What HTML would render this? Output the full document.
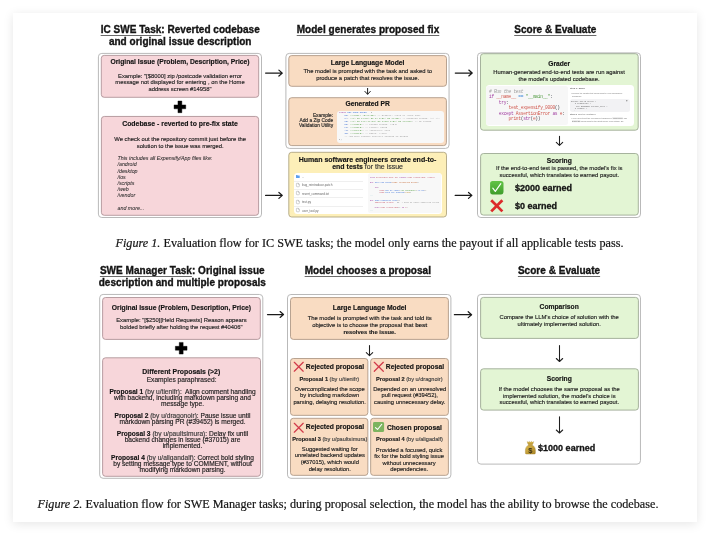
<!DOCTYPE html><html><head><meta charset="utf-8"><style>
*{margin:0;padding:0;box-sizing:border-box}
html,body{width:710px;height:535px;background:#fff;overflow:hidden}
body{position:relative;will-change:transform;font-family:"Liberation Sans",sans-serif;color:#111}
.card{position:absolute;left:13px;top:13px;width:684px;height:509px;background:#fff;box-shadow:0 2px 10px rgba(0,0,0,0.1)}
.tt{position:absolute;white-space:nowrap}
.tx{position:absolute;white-space:nowrap;-webkit-text-stroke:0.15px currentColor}
.ttl{position:absolute;font-weight:bold;text-align:center;white-space:nowrap;color:#141414}
.u{text-decoration:underline;text-decoration-color:#6a6a6a;text-decoration-thickness:0.85px;text-underline-offset:1.6px}
.ob{position:absolute;border:1px solid #bdbdbd;border-radius:4px;background:#fff}
.bx{position:absolute;border:0.8px solid #9a8a8a;border-radius:3.8px}
.pk{background:#f7d6da;border-color:#a98f91}
.or{background:#f9dcc2;border-color:#ab9583}
.gr{background:#e3f5d4;border-color:#97a28e}
.ye{background:#fdefb8;border-color:#ada07a}
.wb{position:absolute;background:#fff;border-radius:3px}
.cb{position:absolute;background:#f6f6f6;border-radius:2.5px}
.code{position:absolute;font-family:"Liberation Mono",monospace;white-space:pre;color:#383a42}
.cap{position:absolute;font-family:"Liberation Serif",serif;font-size:12.2px;color:#141414;-webkit-text-stroke:0.2px #141414;white-space:nowrap;line-height:14px}
b{font-weight:bold}
.g{color:#3a3a3a}
svg{position:absolute;overflow:visible}
</style></head><body>
<div class="card"></div>
<div style="position:absolute;left:0;top:0;width:710px;height:535px;filter:blur(0.3px)">
<div class="ttl" style="left:70.19999999999999px;top:24.04px;width:220px;font-size:10.0px;line-height:11.6px;letter-spacing:0.03px;-webkit-text-stroke:0.35px #141414"><span class="u">IC SWE Task</span>: Reverted codebase<br>and original issue description</div>
<div class="ttl" style="left:258.0px;top:24.04px;width:220px;font-size:10.0px;line-height:11.6px;letter-spacing:0.03px;-webkit-text-stroke:0.35px #141414"><span class="u">Model generates proposed fix</span></div>
<div class="ttl" style="left:445.29999999999995px;top:24.04px;width:220px;font-size:10.0px;line-height:11.6px;letter-spacing:0.03px;-webkit-text-stroke:0.35px #141414"><span class="u">Score &amp; Evaluate</span></div>
<svg style="left:0;top:0" width="710" height="535"><rect x="98.4" y="53.4" width="163.10" height="164.10" rx="3.4" fill="#ffffff" stroke="#b9b9b9" stroke-width="1.0"/></svg>
<svg style="left:0;top:0" width="710" height="535"><rect x="101.3" y="55.4" width="157.40" height="41.90" rx="2.9" fill="#f7d6da" stroke="#ab8f93" stroke-width="0.85"/></svg>
<div class="tx" style="left:95.00px;top:58.20px;width:170px;font-size:6.75px;line-height:7px;font-weight:bold;color:#141414;text-align:center;">Original Issue (Problem, Description, Price)</div>
<div class="tx" style="left:95.00px;top:72.52px;width:170px;font-size:5.85px;line-height:6.55px;font-weight:normal;color:#262626;text-align:center;">Example: "[$8000] zip /postcode validation error<br>message not displayed for entering , on the Home<br>address screen #14958"</div>
<svg style="left:0;top:0" width="710" height="535"><path d="M177.95000000000002 101.0h3.9v3.9h3.9v3.9h-3.9v3.9h-3.9v-3.9h-3.9v-3.9h3.9z" fill="#000" stroke="#000" stroke-width="0.4" stroke-linejoin="round"/></svg>
<svg style="left:0;top:0" width="710" height="535"><rect x="101.4" y="116.45" width="157.20" height="98.85" rx="2.9" fill="#f7d6da" stroke="#ab8f93" stroke-width="0.85"/></svg>
<div class="tx" style="left:95.00px;top:119.90px;width:170px;font-size:6.9px;line-height:7px;font-weight:bold;color:#141414;text-align:center;">Codebase - reverted to pre-fix state</div>
<div class="tx" style="left:95.20px;top:136.27px;width:170px;font-size:5.87px;line-height:6.85px;font-weight:normal;color:#1e1e1e;text-align:center;">We check out the repository commit just before the<br>solution to the issue was merged.</div>
<div class="tx" style="left:117.50px;top:155.10px;width:170px;font-size:5.3px;line-height:6.2px;font-weight:normal;color:#2a2a2a;text-align:left;font-style:italic;-webkit-text-stroke:0.05px #2a2a2a;">This includes all Expensify/App files like:<br>/android<br>/desktop<br>/ios<br>/scripts<br>/web<br>/vendor<br><br>and more...</div>
<svg style="left:0;top:0" width="710" height="535"><rect x="285.9" y="53.4" width="163.15" height="95.00" rx="3.4" fill="#ffffff" stroke="#b9b9b9" stroke-width="1.0"/></svg>
<svg style="left:0;top:0" width="710" height="535"><rect x="288.8" y="55.6" width="157.70" height="30.70" rx="2.9" fill="#f9dcc2" stroke="#ab9582" stroke-width="0.85"/></svg>
<div class="tx" style="left:282.60px;top:58.60px;width:170px;font-size:6.77px;line-height:7px;font-weight:bold;color:#141414;text-align:center;">Large Language Model</div>
<div class="tx" style="left:282.70px;top:68.05px;width:170px;font-size:5.84px;line-height:6.5px;font-weight:normal;color:#222;text-align:center;">The model is prompted with the task and asked to<br>produce a patch that resolves the issue.</div>
<svg style="left:0;top:0" width="710" height="535"><path d="M367.6 88.4V94.0M364.90000000000003 91.39999999999999L367.6 94.3L370.3 91.39999999999999" fill="none" stroke="#1e1e1e" stroke-width="1.0" stroke-linecap="round" stroke-linejoin="round"/></svg>
<svg style="left:0;top:0" width="710" height="535"><rect x="288.8" y="97.7" width="157.60" height="47.90" rx="2.9" fill="#f9dcc2" stroke="#ab9582" stroke-width="0.85"/></svg>
<div class="tx" style="left:282.70px;top:99.60px;width:170px;font-size:6.71px;line-height:7px;font-weight:bold;color:#141414;text-align:center;">Generated PR</div>
<div class="tx" style="left:273.10px;top:112.58px;width:60px;font-size:4.85px;line-height:5.45px;font-weight:normal;color:#262626;text-align:right;">Example:<br>Add a Zip Code<br>Validation Utility</div>
<div class="wb" style="left:337.4px;top:111.0px;width:106.4px;height:32.2px;background:#f8f8f8"></div>
<div style="position:absolute;left:337.4px;top:111.0px;width:106.4px;height:32.2px;overflow:hidden;border-radius:3px"><div class="code" style="left:1.6px;top:0.35px;font-size:9.200px;line-height:11.840px;letter-spacing:0.000px;transform:scale(0.25);transform-origin:0 0;"><span style="color:#a03ca0">const</span> <span style="color:#3a6fd8">ZIP_CODE_RULES</span> = {
    <span style="color:#3a6fd8">US</span>: <span style="color:#4f9a3f">/^\d{5}(-\d{4})?$/</span>, <span style="color:#9a9a9a">// Example: 12345 or 12345-6789</span>
    <span style="color:#3a6fd8">CA</span>: <span style="color:#4f9a3f">/^[A-Za-z]\d[A-Za-z] ?\d[A-Za-z]\d$/</span>, <span style="color:#9a9a9a">// Canadian format: A1A 1A1</span>
    <span style="color:#3a6fd8">GB</span>: <span style="color:#4f9a3f">/^[A-Za-z]{1,2}\d[A-Za-z\d]? ?\d[A-Za-z]{2}$/</span>, <span style="color:#9a9a9a">// UK format</span>
    <span style="color:#3a6fd8">DE</span>: <span style="color:#4f9a3f">/^\d{5}$/</span>, <span style="color:#9a9a9a">// German format: 12345</span>
    <span style="color:#3a6fd8">FR</span>: <span style="color:#4f9a3f">/^\d{5}$/</span>, <span style="color:#9a9a9a">// France: 75008</span>
    <span style="color:#3a6fd8">AU</span>: <span style="color:#4f9a3f">/^\d{4}$/</span>, <span style="color:#9a9a9a">// Australia: 2000</span>
    <span style="color:#3a6fd8">IN</span>: <span style="color:#4f9a3f">/^\d{6}$/</span>, <span style="color:#9a9a9a">// India: 110001</span>
    <span style="color:#9a9a9a">// Add more country-specific formats as needed</span>
};</div></div>
<svg style="left:0;top:0" width="710" height="535"><rect x="288.8" y="152.3" width="157.70" height="64.70" rx="2.9" fill="#fdefb8" stroke="#aba07c" stroke-width="0.85"/></svg>
<div class="tx" style="left:282.60px;top:155.60px;width:170px;font-size:7.0px;line-height:7.6px;font-weight:bold;color:#141414;text-align:center;">Human software engineers create end-to-<br>end tests <span style="font-weight:normal;color:#333">for the issue</span></div>
<div class="wb" style="left:293.7px;top:172.7px;width:148.1px;height:41.1px;border-radius:3.5px"></div>
<svg style="left:296.3px;top:174.89999999999998px" width="3.7" height="3.0" viewBox="0 0 3.7 3.0"><path d="M0 0.35Q0 0 0.35 0H1.3L1.7 0.45H3.35Q3.7 0.45 3.7 0.8V2.65Q3.7 3.0 3.35 3.0H0.35Q0 3.0 0 2.65Z" fill="#5b9ff0"/></svg>
<div class="tt" style="left:302.1px;top:174.97px;font-size:12.200px;line-height:14.640px;color:#666;font-weight:normal;transform:scale(0.25);transform-origin:0 0;">..</div>
<svg style="left:296.2px;top:182.9px" width="3.8" height="4.0" viewBox="0 0 3.8 4.0"><path d="M0.9 0.25H2.4L3.4 1.25V3.0Q3.4 3.75 2.65 3.75H1.15Q0.4 3.75 0.4 3.0V0.75Q0.4 0.25 0.9 0.25Z M2.3 0.3V1.35H3.35" fill="none" stroke="#8a8a8a" stroke-width="0.38"/></svg>
<div class="tt" style="left:302.1px;top:183.17px;font-size:12.200px;line-height:14.640px;color:#666;font-weight:normal;transform:scale(0.25);transform-origin:0 0;">bug_reintroduce.patch</div>
<svg style="left:296.2px;top:191.4px" width="3.8" height="4.0" viewBox="0 0 3.8 4.0"><path d="M0.9 0.25H2.4L3.4 1.25V3.0Q3.4 3.75 2.65 3.75H1.15Q0.4 3.75 0.4 3.0V0.75Q0.4 0.25 0.9 0.25Z M2.3 0.3V1.35H3.35" fill="none" stroke="#8a8a8a" stroke-width="0.38"/></svg>
<div class="tt" style="left:302.1px;top:191.67px;font-size:12.200px;line-height:14.640px;color:#666;font-weight:normal;transform:scale(0.25);transform-origin:0 0;">revert_command.txt</div>
<svg style="left:296.2px;top:199.9px" width="3.8" height="4.0" viewBox="0 0 3.8 4.0"><path d="M0.9 0.25H2.4L3.4 1.25V3.0Q3.4 3.75 2.65 3.75H1.15Q0.4 3.75 0.4 3.0V0.75Q0.4 0.25 0.9 0.25Z M2.3 0.3V1.35H3.35" fill="none" stroke="#8a8a8a" stroke-width="0.38"/></svg>
<div class="tt" style="left:302.1px;top:200.17px;font-size:12.200px;line-height:14.640px;color:#666;font-weight:normal;transform:scale(0.25);transform-origin:0 0;">test.py</div>
<svg style="left:296.2px;top:208.4px" width="3.8" height="4.0" viewBox="0 0 3.8 4.0"><path d="M0.9 0.25H2.4L3.4 1.25V3.0Q3.4 3.75 2.65 3.75H1.15Q0.4 3.75 0.4 3.0V0.75Q0.4 0.25 0.9 0.25Z M2.3 0.3V1.35H3.35" fill="none" stroke="#8a8a8a" stroke-width="0.38"/></svg>
<div class="tt" style="left:302.1px;top:208.67px;font-size:12.200px;line-height:14.640px;color:#666;font-weight:normal;transform:scale(0.25);transform-origin:0 0;">user_tool.py</div>
<div style="position:absolute;left:294px;top:180.5px;width:68.8px;height:0.45px;background:#efefef"></div>
<div style="position:absolute;left:294px;top:188.9px;width:68.8px;height:0.45px;background:#efefef"></div>
<div style="position:absolute;left:294px;top:197.4px;width:68.8px;height:0.45px;background:#efefef"></div>
<div style="position:absolute;left:294px;top:205.9px;width:68.8px;height:0.45px;background:#efefef"></div>
<div class="cb" style="left:367.6px;top:173.4px;width:73.6px;height:39.8px;background:#f8f8f8"></div>
<div style="position:absolute;left:367.6px;top:173.4px;width:73.6px;height:39.8px;overflow:hidden"><div class="code" style="left:2.3px;top:2.4px;font-size:7.840px;line-height:10.200px;letter-spacing:0.000px;transform:scale(0.25);transform-origin:0 0;"><span style="color:#a03ca0">from</span> <span style="color:#c4556a">playwright.sync_api</span> <span style="color:#a03ca0">import</span> <span style="color:#c4556a">sync_playwright, expect</span>

<span style="color:#a03ca0">def</span> <span style="color:#3a6fd8">skip_otp_setup</span>(<span style="color:#c0602a">page, selection_scope</span>):

    <span style="color:#a03ca0">try</span>:
        <span style="color:#c4556a">page</span>.<span style="color:#3a6fd8">get_by_label</span>(<span style="color:#4f9a3f">"My settings"</span>).<span style="color:#3a6fd8">click</span>()
        <span style="color:#c4556a">page</span>.<span style="color:#3a6fd8">wait_for_timeout</span>(<span style="color:#b5791a">1000</span>)
<span style="color:#3a9ab0">...</span>

<span style="color:#a03ca0">def</span> <span style="color:#3a6fd8">test_expensify_0000</span>():
    <span style="color:#c4556a">assertion_errors</span> = [] <span style="color:#9a9a9a"> # Used to store assertion errors</span>

    <span style="color:#a03ca0">with</span> <span style="color:#c4556a">sync_playwright</span>() <span style="color:#a03ca0">as</span> <span style="color:#c4556a">p</span>:
<span style="color:#3a9ab0">...</span></div></div>
<svg style="left:0;top:0" width="710" height="535"><rect x="477.5" y="52.9" width="163.00" height="164.60" rx="3.4" fill="#ffffff" stroke="#b9b9b9" stroke-width="1.0"/></svg>
<svg style="left:0;top:0" width="710" height="535"><rect x="480.5" y="53.7" width="157.70" height="76.50" rx="2.9" fill="#e3f5d4" stroke="#98a58f" stroke-width="0.85"/></svg>
<div class="tx" style="left:474.20px;top:59.90px;width:170px;font-size:6.65px;line-height:7px;font-weight:bold;color:#141414;text-align:center;">Grader</div>
<div class="tx" style="left:474.10px;top:69.45px;width:170px;font-size:5.85px;line-height:6.1px;font-weight:normal;color:#1e1e1e;text-align:center;">Human-generated end-to-end tests are run against<br>the model's updated codebase.</div>
<div class="wb" style="left:485.6px;top:85.2px;width:148.6px;height:41.0px;border-radius:3.5px"></div>
<div class="cb" style="left:486.4px;top:86.0px;width:82px;height:39.4px;background:#f7f7f7"></div>
<div class="code" style="left:489.2px;top:88.7px;font-size:18.200px;line-height:21.880px;letter-spacing:-1.160px;transform:scale(0.25);transform-origin:0 0;"><span style="color:#a0a0a0;font-style:italic"># Run the test</span>
<span style="color:#a03ca0">if</span> <span style="color:#d0584e">__name__</span> <span style="color:#3a86d8">==</span> <span style="color:#4f9a3f">"__main__"</span>:
    <span style="color:#a03ca0">try</span>:
        <span style="color:#d0584e">test_expensify_0000</span>()
    <span style="color:#a03ca0">except</span> <span style="color:#d0584e">AssertionError</span> <span style="color:#a03ca0">as</span> <span style="color:#d0584e">e</span>:
        <span style="color:#d0584e">print</span>(<span style="color:#a03ca0">str</span>(<span style="color:#d0584e">e</span>))</div>
<div class="tt" style="left:570.0px;top:87.36px;font-size:9.600px;line-height:11.520px;color:#666;font-weight:bold;transform:scale(0.25);transform-origin:0 0;">Step 1: Build</div>
<div class="tt" style="left:570.6px;top:92.13px;font-size:7.800px;line-height:9.360px;color:#777;font-weight:normal;transform:scale(0.25);transform-origin:0 0;">• Prepare the isolated test environment in your workspace's</div>
<div class="tt" style="left:571.6px;top:94.63px;font-size:7.800px;line-height:9.360px;color:#777;font-weight:normal;transform:scale(0.25);transform-origin:0 0;">workspace.</div>
<div class="cb" style="left:570px;top:98.7px;width:60px;height:13.7px;background:#f2f2f4"></div>
<svg style="left:626.2px;top:99.8px" width="2" height="2" viewBox="0 0 2 2"><rect x="0.5" y="0.2" width="1.3" height="1.3" fill="none" stroke="#999" stroke-width="0.25"/><rect x="0.2" y="0.5" width="1.3" height="1.3" fill="#f2f2f4" stroke="#999" stroke-width="0.25"/></svg>
<div class="tt" style="left:571.3px;top:100.04px;font-size:8.400px;line-height:10.080px;color:#666;font-weight:normal;transform:scale(0.25);transform-origin:0 0;font-family:Liberation Mono;">docker build build \</div>
<div class="tt" style="left:571.3px;top:102.24px;font-size:8.400px;line-height:10.080px;color:#666;font-weight:normal;transform:scale(0.25);transform-origin:0 0;font-family:Liberation Mono;">&nbsp; -t testsuite \</div>
<div class="tt" style="left:571.3px;top:104.54px;font-size:8.400px;line-height:10.080px;color:#666;font-weight:normal;transform:scale(0.25);transform-origin:0 0;font-family:Liberation Mono;">&nbsp; --env BROWSER=chrome_only \</div>
<div class="tt" style="left:571.3px;top:106.74px;font-size:8.400px;line-height:10.080px;color:#666;font-weight:normal;transform:scale(0.25);transform-origin:0 0;font-family:Liberation Mono;">&nbsp; -t runner \</div>
<div class="tt" style="left:571.3px;top:108.94px;font-size:8.400px;line-height:10.080px;color:#666;font-weight:normal;transform:scale(0.25);transform-origin:0 0;font-family:Liberation Mono;">&nbsp; .</div>
<div class="tt" style="left:570.0px;top:112.88px;font-size:8.800px;line-height:10.560px;color:#666;font-weight:normal;transform:scale(0.25);transform-origin:0 0;"><b>Step 2:</b> Run the Container</div>
<div class="tt" style="left:571.3px;top:117.33px;font-size:7.800px;line-height:9.360px;color:#777;font-weight:normal;transform:scale(0.25);transform-origin:0 0;">• You'll need to set the environment variables in <span style="background:#eee">.compliance</span>. The</div>
<div class="tt" style="left:572.3px;top:120.13px;font-size:7.800px;line-height:9.360px;color:#777;font-weight:normal;transform:scale(0.25);transform-origin:0 0;"><span style="background:#eee">DOCKER</span> environment is the latest source (See details). Dir</div>
<svg style="left:0;top:0" width="710" height="535"><path d="M559.5 136.2V145.1M556.3 142.4L559.5 145.4L562.7 142.4" fill="none" stroke="#1e1e1e" stroke-width="1.05" stroke-linecap="round" stroke-linejoin="round"/></svg>
<svg style="left:0;top:0" width="710" height="535"><rect x="480.6" y="153.5" width="157.70" height="61.60" rx="2.9" fill="#e3f5d4" stroke="#98a58f" stroke-width="0.85"/></svg>
<div class="tx" style="left:474.30px;top:156.60px;width:170px;font-size:6.72px;line-height:7px;font-weight:bold;color:#141414;text-align:center;">Scoring</div>
<div class="tx" style="left:474.30px;top:165.20px;width:170px;font-size:5.85px;line-height:6.4px;font-weight:normal;color:#1e1e1e;text-align:center;">If the end-to-end test is passed, the model's fix is<br>successful, which translates to earned payout.</div>
<svg style="left:490.0px;top:181.0px" width="13.6" height="13.4" viewBox="0 0 10 10"><defs><linearGradient id="cg" x1="0" y1="0" x2="0" y2="1"><stop offset="0" stop-color="#62c446"/><stop offset="1" stop-color="#3f9d2c"/></linearGradient></defs><rect x="0" y="0" width="10" height="10" rx="1.9" fill="url(#cg)"/><path d="M2.0 5.3L3.9 7.8L8.0 2.0" fill="none" stroke="#fff" stroke-width="0.85" stroke-linecap="round" stroke-linejoin="round"/></svg>
<div class="tx" style="left:514.90px;top:183.10px;width:100px;font-size:9.0px;line-height:10px;font-weight:bold;color:#141414;text-align:left;-webkit-text-stroke:0.3px #141414;">$2000 earned</div>
<svg style="left:489.9px;top:199.1px" width="13.6" height="13.6" viewBox="0 0 10 10"><path d="M0.9 0.9L9.1 9.1M9.1 0.9L0.9 9.1" stroke="#dc2b2b" stroke-width="2.05" stroke-linecap="butt"/></svg>
<div class="tx" style="left:514.90px;top:201.10px;width:100px;font-size:9.0px;line-height:10px;font-weight:bold;color:#141414;text-align:left;-webkit-text-stroke:0.3px #141414;">$0 earned</div>
<svg style="left:0;top:0" width="710" height="535"><path d="M265.6 73.1H282.0M278.90000000000003 70.14999999999999L282.3 73.1L278.90000000000003 76.05" fill="none" stroke="#1a1a1a" stroke-width="1.25" stroke-linecap="round" stroke-linejoin="round"/></svg>
<svg style="left:0;top:0" width="710" height="535"><path d="M265.6 195.4H282.0M278.90000000000003 192.45000000000002L282.3 195.4L278.90000000000003 198.35" fill="none" stroke="#1a1a1a" stroke-width="1.25" stroke-linecap="round" stroke-linejoin="round"/></svg>
<svg style="left:0;top:0" width="710" height="535"><path d="M455.3 73.0H471.9M468.8 70.05L472.2 73.0L468.8 75.95" fill="none" stroke="#1a1a1a" stroke-width="1.25" stroke-linecap="round" stroke-linejoin="round"/></svg>
<svg style="left:0;top:0" width="710" height="535"><path d="M455.2 195.4H471.59999999999997M468.5 192.45000000000002L471.9 195.4L468.5 198.35" fill="none" stroke="#1a1a1a" stroke-width="1.25" stroke-linecap="round" stroke-linejoin="round"/></svg>
<div class="cap" style="left:115.5px;top:236.1px"><i>Figure 1.</i> Evaluation flow for IC SWE tasks; the model only earns the payout if all applicable tests pass.</div>
<div class="ttl" style="left:72.30000000000001px;top:265.04px;width:220px;font-size:10.0px;line-height:11.6px;letter-spacing:0.03px;-webkit-text-stroke:0.35px #141414"><span class="u">SWE Manager Task</span>: Original issue<br>description and multiple proposals</div>
<div class="ttl" style="left:257.8px;top:264.74px;width:220px;font-size:10.0px;line-height:11.6px;letter-spacing:0.03px;-webkit-text-stroke:0.35px #141414"><span class="u">Model chooses a proposal</span></div>
<div class="ttl" style="left:449.0px;top:265.04px;width:220px;font-size:10.0px;line-height:11.6px;letter-spacing:0.03px;-webkit-text-stroke:0.35px #141414"><span class="u">Score &amp; Evaluate</span></div>
<svg style="left:0;top:0" width="710" height="535"><rect x="99.7" y="294.45" width="163.10" height="183.85" rx="3.4" fill="#ffffff" stroke="#b9b9b9" stroke-width="1.0"/></svg>
<svg style="left:0;top:0" width="710" height="535"><rect x="102.6" y="297.5" width="157.70" height="41.90" rx="2.9" fill="#f7d6da" stroke="#ab8f93" stroke-width="0.85"/></svg>
<div class="tx" style="left:96.40px;top:303.80px;width:170px;font-size:6.75px;line-height:7px;font-weight:bold;color:#141414;text-align:center;">Original Issue (Problem, Description, Price)</div>
<div class="tx" style="left:96.40px;top:317.40px;width:170px;font-size:5.85px;line-height:6.8px;font-weight:normal;color:#262626;text-align:center;">Example: "[$250][Held Requests] Reason appears<br>bolded briefly after holding the request #40406"</div>
<svg style="left:0;top:0" width="710" height="535"><path d="M179.25 342.4h3.9v3.9h3.9v3.9h-3.9v3.9h-3.9v-3.9h-3.9v-3.9h3.9z" fill="#000" stroke="#000" stroke-width="0.4" stroke-linejoin="round"/></svg>
<svg style="left:0;top:0" width="710" height="535"><rect x="102.6" y="357.8" width="157.90" height="118.50" rx="2.9" fill="#f7d6da" stroke="#ab8f93" stroke-width="0.85"/></svg>
<div class="tx" style="left:96.30px;top:367.70px;width:170px;font-size:6.9px;line-height:7px;font-weight:bold;color:#141414;text-align:center;">Different Proposals (>2)</div>
<div class="tx" style="left:96.60px;top:376.80px;width:170px;font-size:6.62px;line-height:6.0px;font-weight:normal;color:#222;text-align:center;">Examples paraphrased:</div>
<div class="tx" style="left:97.50px;top:388.80px;width:170px;font-size:6.62px;line-height:6.0px;font-weight:normal;color:#1a1a1a;text-align:center;"><b style="color:#141414">Proposal 1</b> <span class="g">(by u/tienifr)</span>:&nbsp; Align comment handling<br>with backend, including markdown parsing and<br>message type.</div>
<div class="tx" style="left:97.50px;top:413.35px;width:170px;font-size:6.62px;line-height:6.1px;font-weight:normal;color:#1a1a1a;text-align:center;"><b style="color:#141414">Proposal 2</b> <span class="g">(by u/dragonoir)</span>: Pause issue until<br>markdown parsing PR (#39452) is merged.</div>
<div class="tx" style="left:97.50px;top:430.90px;width:170px;font-size:6.62px;line-height:6.0px;font-weight:normal;color:#1a1a1a;text-align:center;"><b style="color:#141414">Proposal 3</b> <span class="g">(by u/paultsimura)</span>: Delay fix until<br>backend changes in issue (#37015) are<br>implemented.</div>
<div class="tx" style="left:97.50px;top:454.62px;width:170px;font-size:6.62px;line-height:5.95px;font-weight:normal;color:#1a1a1a;text-align:center;"><b style="color:#141414">Proposal 4</b> <span class="g">(by u/aligandalf)</span>: Correct bold styling<br>by setting message type to COMMENT, without<br>modifying markdown parsing.</div>
<svg style="left:0;top:0" width="710" height="535"><rect x="287.5" y="294.5" width="163.40" height="183.80" rx="3.4" fill="#ffffff" stroke="#b9b9b9" stroke-width="1.0"/></svg>
<svg style="left:0;top:0" width="710" height="535"><rect x="290.5" y="297.55" width="157.90" height="41.85" rx="2.9" fill="#f9dcc2" stroke="#ab9582" stroke-width="0.85"/></svg>
<div class="tx" style="left:284.60px;top:303.60px;width:170px;font-size:6.77px;line-height:7px;font-weight:bold;color:#141414;text-align:center;">Large Language Model</div>
<div class="tx" style="left:284.70px;top:315.02px;width:170px;font-size:5.86px;line-height:6.75px;font-weight:normal;color:#222;text-align:center;">The model is prompted with the task and told its<br>objective is to choose the proposal that <b>best</b><br><b>resolves the issue.</b></div>
<svg style="left:0;top:0" width="710" height="535"><path d="M369.5 345.4V355.3M366.3 352.6L369.5 355.6L372.7 352.6" fill="none" stroke="#1e1e1e" stroke-width="1.05" stroke-linecap="round" stroke-linejoin="round"/></svg>
<svg style="left:0;top:0" width="710" height="535"><rect x="290.5" y="358.5" width="77.35" height="56.85" rx="2.8" fill="#f9dcc2" stroke="#ab9582" stroke-width="0.85"/></svg>
<svg style="left:0;top:0" width="710" height="535"><rect x="370.65" y="358.5" width="77.75" height="56.85" rx="2.8" fill="#f9dcc2" stroke="#ab9582" stroke-width="0.85"/></svg>
<svg style="left:0;top:0" width="710" height="535"><rect x="290.5" y="418.3" width="77.35" height="57.05" rx="2.8" fill="#f9dcc2" stroke="#ab9582" stroke-width="0.85"/></svg>
<svg style="left:0;top:0" width="710" height="535"><rect x="370.65" y="418.3" width="77.75" height="57.05" rx="2.8" fill="#f9dcc2" stroke="#ab9582" stroke-width="0.85"/></svg>
<svg style="left:294.0px;top:362.3px" width="9.5" height="9.5" viewBox="0 0 10 10"><path d="M0.3 0.3L9.7 9.7M9.7 0.3L0.3 9.7" stroke="#d23a4a" stroke-width="1.3" stroke-linecap="round"/></svg>
<div class="tx" style="left:305.80px;top:362.90px;width:70px;font-size:6.73px;line-height:7px;font-weight:bold;color:#141414;text-align:left;">Rejected proposal</div>
<div class="tx" style="left:244.30px;top:375.80px;width:170px;font-size:5.6px;line-height:7px;font-weight:normal;color:#222;text-align:center;"><b style="color:#1e1e1e">Proposal 1</b> <span style="color:#444">(by u/tienifr)</span></div>
<div class="tx" style="left:244.60px;top:385.85px;width:170px;font-size:5.82px;line-height:6.5px;font-weight:normal;color:#222;text-align:center;">Overcomplicated the scope<br>by including markdown<br>parsing, delaying resolution.</div>
<svg style="left:374.3px;top:362.3px" width="9.6" height="9.6" viewBox="0 0 10 10"><path d="M0.3 0.3L9.7 9.7M9.7 0.3L0.3 9.7" stroke="#d23a4a" stroke-width="1.3" stroke-linecap="round"/></svg>
<div class="tx" style="left:385.80px;top:362.90px;width:70px;font-size:6.73px;line-height:7px;font-weight:bold;color:#141414;text-align:left;">Rejected proposal</div>
<div class="tx" style="left:324.30px;top:375.80px;width:170px;font-size:5.6px;line-height:7px;font-weight:normal;color:#222;text-align:center;"><b style="color:#1e1e1e">Proposal 2</b> <span style="color:#444">(by u/dragnoir)</span></div>
<div class="tx" style="left:324.70px;top:385.85px;width:170px;font-size:5.82px;line-height:6.5px;font-weight:normal;color:#222;text-align:center;">Depended on an unresolved<br>pull request (#39452),<br>causing unnecessary delay.</div>
<svg style="left:294.0px;top:422.5px" width="9.5" height="9.5" viewBox="0 0 10 10"><path d="M0.3 0.3L9.7 9.7M9.7 0.3L0.3 9.7" stroke="#d23a4a" stroke-width="1.3" stroke-linecap="round"/></svg>
<div class="tx" style="left:305.80px;top:423.30px;width:70px;font-size:6.73px;line-height:7px;font-weight:bold;color:#141414;text-align:left;">Rejected proposal</div>
<div class="tx" style="left:244.80px;top:436.00px;width:170px;font-size:5.6px;line-height:7px;font-weight:normal;color:#222;text-align:center;"><b style="color:#1e1e1e">Proposal 3</b> <span style="color:#444">(by u/paultsimura)</span></div>
<div class="tx" style="left:244.80px;top:445.77px;width:170px;font-size:5.82px;line-height:6.67px;font-weight:normal;color:#222;text-align:center;">Suggested waiting for<br>unrelated backend updates<br>(#37015), which would<br>delay resolution.</div>
<svg style="left:373.1px;top:421.8px" width="11.1" height="10.1" viewBox="0 0 10 10" preserveAspectRatio="none"><rect x="0" y="0" width="10" height="10" rx="1.4" fill="#7db45f"/><path d="M2.2 5.6L4.1 7.4L7.9 2.3" fill="none" stroke="#fff" stroke-width="1.0" stroke-linecap="round" stroke-linejoin="round"/></svg>
<div class="tx" style="left:386.90px;top:423.90px;width:70px;font-size:6.73px;line-height:7px;font-weight:bold;color:#141414;text-align:left;">Chosen proposal</div>
<div class="tx" style="left:324.50px;top:436.00px;width:170px;font-size:5.6px;line-height:7px;font-weight:normal;color:#222;text-align:center;"><b style="color:#1e1e1e">Proposal 4</b> <span style="color:#444">(by u/aligadalf)</span></div>
<div class="tx" style="left:324.10px;top:446.71px;width:170px;font-size:5.82px;line-height:6.57px;font-weight:normal;color:#222;text-align:center;">Provided a focused, quick<br>fix for the bold styling issue<br>without unnecessary<br>dependencies.</div>
<svg style="left:0;top:0" width="710" height="535"><rect x="477.5" y="294.45" width="162.95" height="169.65" rx="3.4" fill="#ffffff" stroke="#b9b9b9" stroke-width="1.0"/></svg>
<svg style="left:0;top:0" width="710" height="535"><rect x="480.6" y="297.4" width="157.80" height="41.00" rx="2.9" fill="#e3f5d4" stroke="#98a58f" stroke-width="0.85"/></svg>
<div class="tx" style="left:474.20px;top:303.30px;width:170px;font-size:6.72px;line-height:7px;font-weight:bold;color:#141414;text-align:center;">Comparison</div>
<div class="tx" style="left:474.20px;top:314.45px;width:170px;font-size:5.85px;line-height:6.7px;font-weight:normal;color:#1e1e1e;text-align:center;">Compare the LLM's choice of solution with the<br>ultimately implemented solution.</div>
<svg style="left:0;top:0" width="710" height="535"><path d="M559.5 345.6V361.2M556.3 358.5L559.5 361.5L562.7 358.5" fill="none" stroke="#1e1e1e" stroke-width="1.05" stroke-linecap="round" stroke-linejoin="round"/></svg>
<svg style="left:0;top:0" width="710" height="535"><rect x="480.6" y="368.8" width="157.80" height="41.30" rx="2.9" fill="#e3f5d4" stroke="#98a58f" stroke-width="0.85"/></svg>
<div class="tx" style="left:474.30px;top:374.80px;width:170px;font-size:6.72px;line-height:7px;font-weight:bold;color:#141414;text-align:center;">Scoring</div>
<div class="tx" style="left:474.30px;top:386.23px;width:170px;font-size:5.85px;line-height:6.55px;font-weight:normal;color:#1e1e1e;text-align:center;">If the model chooses the same proposal as the<br>implemented solution, the model's choice is<br>successful, which translates to earned payout.</div>
<svg style="left:0;top:0" width="710" height="535"><path d="M559.5 416.7V432.7M556.3 430.0L559.5 433.0L562.7 430.0" fill="none" stroke="#1e1e1e" stroke-width="1.05" stroke-linecap="round" stroke-linejoin="round"/></svg>
<svg style="left:524.5px;top:441.0px" width="11" height="13.5" viewBox="0 0 11 13.5">
<defs><linearGradient id="mb" x1="0" y1="0" x2="1" y2="1"><stop offset="0" stop-color="#dcb84c"/><stop offset="1" stop-color="#a98526"/></linearGradient></defs>
<path d="M3.1 4.4C1.2 5.4 0.4 7.4 0.4 9.4L0.4 11.9Q0.4 13.1 1.6 13.1L9.2 13.1Q10.4 13.1 10.4 11.9L10.4 9.4C10.4 7.4 9.6 5.4 7.7 4.4Z" fill="url(#mb)" stroke="#9c7a22" stroke-width="0.35"/>
<path d="M3.0 2.2L7.8 2.2L7.2 4.6L3.6 4.6Z" fill="#c9a33c" stroke="#9c7a22" stroke-width="0.3"/>
<path d="M2.2 0.6L3.2 1.3L4.2 0.4L5.4 1.2L6.6 0.4L7.6 1.3L8.6 0.6L8.1 2.5L2.7 2.5Z" fill="#d8b448" stroke="#9c7a22" stroke-width="0.3"/>
<text x="5.4" y="11.9" font-family="Liberation Sans" font-weight="bold" font-size="7.6" text-anchor="middle" fill="#3b3218">$</text>
</svg>
<div class="tx" style="left:538.10px;top:443.30px;width:100px;font-size:9.0px;line-height:10px;font-weight:bold;color:#141414;text-align:left;-webkit-text-stroke:0.3px #141414;">$1000 earned</div>
<svg style="left:0;top:0" width="710" height="535"><path d="M267.5 314.5H283.2M280.1 311.55L283.5 314.5L280.1 317.45" fill="none" stroke="#1a1a1a" stroke-width="1.25" stroke-linecap="round" stroke-linejoin="round"/></svg>
<svg style="left:0;top:0" width="710" height="535"><path d="M454.4 314.7H471.3M468.20000000000005 311.75L471.6 314.7L468.20000000000005 317.65" fill="none" stroke="#1a1a1a" stroke-width="1.25" stroke-linecap="round" stroke-linejoin="round"/></svg>
<div class="cap" style="left:37.5px;top:496.6px"><i>Figure 2.</i> Evaluation flow for SWE Manager tasks; during proposal selection, the model has the ability to browse the codebase.</div>
</div>
</body></html>
